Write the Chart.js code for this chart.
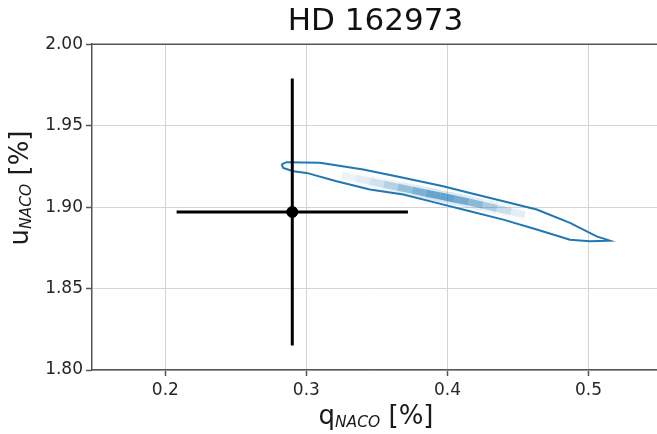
<!DOCTYPE html>
<html>
<head>
<meta charset="utf-8">
<title>HD 162973</title>
<script src="https://cdn.jsdelivr.net/npm/chart.js@4"></script>
<style>
    html, body { margin: 0; padding: 0; background: #fff; overflow: hidden; }
    #wrap { width: 657px; height: 434px; overflow: hidden; }
    #qu { display: block; }
</style>
</head>
<body>
<div id="wrap"><canvas id="qu" width="670" height="434"></canvas></div>
<script>
// --- DATA ---
const xTicks = [0.2, 0.3, 0.4, 0.5];
const yTicks = [1.80, 1.85, 1.90, 1.95, 2.00];

// measured value with 1-sigma errors
const pointQ = [0.290];
const pointU = [1.897];
const errQ = [0.082];
const errU = [0.082];

// outer contour of the posterior (closed path)
const contourQ = [0.2824, 0.2860, 0.3096, 0.3403, 0.3687, 0.3970, 0.4160, 0.4633, 0.4869, 0.5058, 0.5152,
                  0.5010, 0.4869, 0.4633, 0.4396, 0.4160, 0.3923, 0.3687, 0.3450, 0.3214, 0.3001, 0.2906, 0.2836, 0.2824];
const contourU = [1.9262, 1.9276, 1.9272, 1.9231, 1.9180, 1.9128, 1.9087, 1.8985, 1.8903, 1.8820, 1.8794,
                  1.8790, 1.8800, 1.8862, 1.8923, 1.8974, 1.9026, 1.9077, 1.9108, 1.9159, 1.9210, 1.9220, 1.9241, 1.9262];

// density ridge of the 2d histogram
const densQ = [0.325, 0.335, 0.345, 0.355, 0.365, 0.375, 0.385, 0.395, 0.405, 0.415, 0.425, 0.435, 0.445, 0.455];
const densU = [1.9195, 1.9178, 1.9158, 1.9140, 1.9122, 1.9104, 1.9085, 1.9068, 1.9050, 1.9032, 1.9012, 1.8992, 1.8972, 1.8952];
const densW = [0.06, 0.10, 0.15, 0.25, 0.40, 0.55, 0.65, 0.75, 0.70, 0.60, 0.45, 0.30, 0.15, 0.08];

const blue = '#1f77b4';
const font = "'DejaVu Sans', sans-serif";

const toXY = (xs, ys) => xs.map((x, i) => ({ x: x, y: ys[i] }));
const densColor = (alpha) => (ctx) => {
    const w = (densW[ctx.p0DataIndex] + densW[ctx.p1DataIndex]) / 2;
    return 'rgba(31, 119, 180, ' + (w * alpha).toFixed(3) + ')';
};

// top spine + axis titles with subscripts
const framePlugin = {
    id: 'frame',
    afterDatasetsDraw(chart) {
        const { ctx, chartArea: a } = chart;
        ctx.save();
        ctx.strokeStyle = '#555';
        ctx.lineWidth = 1.5;
        ctx.beginPath();
        ctx.moveTo(a.left, a.top);
        ctx.lineTo(a.right, a.top);
        ctx.stroke();
        ctx.restore();
    },
    afterDraw(chart) {
        const { ctx } = chart;
        const parts = (main) => [
            { t: main, f: '26px ' + font, dy: 0 },
            { t: 'NACO', f: 'italic 15.5px ' + font, dy: 3 },
            { t: ' [%]', f: '26px ' + font, dy: 0 }
        ];
        const drawLabel = (items) => {
            let total = 0;
            items.forEach(p => { ctx.font = p.f; p.w = ctx.measureText(p.t).width; total += p.w; });
            let x = -total / 2;
            items.forEach(p => { ctx.font = p.f; ctx.fillText(p.t, x, p.dy); x += p.w; });
        };
        ctx.save();
        ctx.fillStyle = '#1a1a1a';
        ctx.textBaseline = 'alphabetic';
        ctx.textAlign = 'left';
        ctx.translate(376, 424);
        drawLabel(parts('q'));
        ctx.restore();

        ctx.save();
        ctx.fillStyle = '#1a1a1a';
        ctx.textBaseline = 'alphabetic';
        ctx.textAlign = 'left';
        ctx.translate(28, 188);
        ctx.rotate(-Math.PI / 2);
        drawLabel(parts('u'));
        ctx.restore();
    }
};

new Chart(document.getElementById('qu'), {
    type: 'scatter',
    data: {
        datasets: [
            {
                // measured point
                data: toXY(pointQ, pointU),
                backgroundColor: '#000',
                borderColor: '#000',
                pointRadius: 5.5,
                order: 0
            },
            {
                // horizontal error bar
                type: 'line',
                data: [{ x: pointQ[0] - errQ[0], y: pointU[0] }, { x: pointQ[0] + errQ[0], y: pointU[0] }],
                borderColor: '#000',
                borderWidth: 3,
                pointRadius: 0,
                order: 1
            },
            {
                // vertical error bar
                type: 'line',
                data: [{ x: pointQ[0], y: pointU[0] - errU[0] }, { x: pointQ[0], y: pointU[0] + errU[0] }],
                borderColor: '#000',
                borderWidth: 3,
                pointRadius: 0,
                order: 1
            },
            {
                type: 'line',
                data: toXY(contourQ, contourU),
                borderColor: blue,
                borderWidth: 2,
                pointRadius: 0,
                tension: 0,
                order: 2
            },
            {
                // dense core
                type: 'line',
                data: toXY(densQ, densU),
                borderWidth: 7,
                borderCapStyle: 'butt',
                pointRadius: 0,
                segment: { borderColor: densColor(0.85) },
                order: 3
            },
            {
                // faint halo of the histogram
                type: 'line',
                data: toXY(densQ, densU),
                borderWidth: 12,
                borderCapStyle: 'butt',
                pointRadius: 0,
                segment: { borderColor: densColor(0.25) },
                order: 4
            }
        ]
    },
    options: {
        responsive: false,
        animation: false,
        events: [],
        layout: { padding: { left: 0, right: 11, top: 0, bottom: 0 } },
        plugins: {
            legend: { display: false },
            tooltip: { enabled: false },
            title: {
                display: true,
                text: 'HD 162973',
                fullSize: false,
                color: '#111',
                font: { family: font, size: 31, weight: 'normal', lineHeight: 1.2 },
                padding: { top: 3, bottom: 4 }
            }
        },
        scales: {
            x: {
                type: 'linear',
                min: 0.148,
                max: 0.55,
                afterBuildTicks: (scale) => { scale.ticks = xTicks.map(v => ({ value: v })); },
                afterFit: (scale) => { scale.height = 64; },
                grid: { color: '#d4d4d4', lineWidth: 1, tickColor: '#555', tickLength: 6, tickWidth: 1.5 },
                border: { color: '#555', width: 1.5 },
                ticks: {
                    color: '#262626',
                    padding: 4,
                    maxRotation: 0,
                    font: { family: font, size: 17 },
                    callback: (v) => v.toFixed(1)
                }
            },
            y: {
                type: 'linear',
                min: 1.80,
                max: 2.00,
                afterBuildTicks: (scale) => { scale.ticks = yTicks.map(v => ({ value: v })); },
                afterFit: (scale) => { scale.width = 92; },
                grid: { color: '#d4d4d4', lineWidth: 1, tickColor: '#555', tickLength: 6, tickWidth: 1.5 },
                border: { color: '#555', width: 1.5 },
                ticks: {
                    color: '#262626',
                    padding: 3,
                    font: { family: font, size: 17 },
                    callback: (v) => v.toFixed(2)
                }
            }
        }
    },
    plugins: [framePlugin]
});
</script>
</body>
</html>
